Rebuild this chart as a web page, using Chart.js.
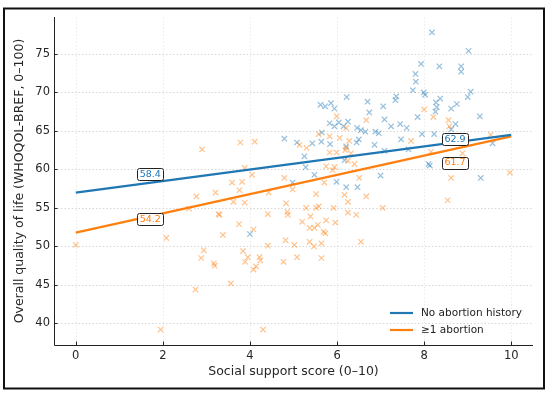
<!DOCTYPE html>
<html><head><meta charset="utf-8">
<script src="https://cdn.jsdelivr.net/npm/chart.js@4"></script>
<style>html,body{margin:0;padding:0;background:#fff}#wrap{width:550px;height:395px;position:relative}</style>
</head><body><div id="wrap"><canvas id="c" width="550" height="395"></canvas></div>
<script>
// ---- data ----
const seriesNames = ['No abortion history', '\u22651 abortion'];
const noAbortionX = [4.0,4.98,5.48,5.99,6.21,6.47,7.0,9.3,4.79,5.08,5.43,5.25,5.28,5.62,5.73,5.86,6.22,5.94,5.83,6.04,5.94,6.15,6.25,6.46,6.55,6.65,6.7,5.65,6.45,5.84,6.21,6.17,8.18,9.02,7.93,8.35,8.85,8.85,7.8,7.81,7.74,7.99,8.02,9.07,9.0,8.37,8.27,8.29,8.75,8.62,9.28,7.36,7.34,7.06,6.74,7.85,7.09,7.24,7.45,7.6,8.72,8.62,6.88,6.96,7.47,7.95,8.23,6.86,9.57,7.64,8.1,8.13,7.09,5.64,6.5,8.26];
const noAbortionY = [51.6,58.3,59.3,58.4,57.7,57.7,59.2,58.9,64.0,63.5,63.4,61.7,60.3,68.4,68.2,68.6,69.4,67.9,66.0,66.1,65.6,65.6,66.2,65.4,65.1,64.9,68.8,64.8,63.5,63.3,63.0,61.2,77.8,75.4,73.7,73.4,73.4,72.7,72.4,71.4,70.3,70.0,69.7,70.1,69.4,69.2,68.7,68.1,68.5,67.9,66.9,69.5,69.0,68.2,67.4,66.8,66.5,65.6,65.9,65.4,65.9,65.2,64.9,64.7,63.9,64.6,64.6,63.2,63.4,62.6,60.7,60.5,62.4,63.6,63.9,67.5];
const abortionX = [0.0,1.95,2.08,2.9,2.77,2.6,3.21,3.28,3.3,2.94,2.88,3.17,3.19,2.75,3.38,3.56,3.59,3.82,3.76,3.62,3.88,3.75,4.08,3.84,3.95,3.89,4.22,4.14,4.08,4.24,4.41,4.3,4.41,4.43,4.83,4.86,4.87,4.98,4.82,5.02,4.77,5.08,5.2,5.29,5.52,5.58,5.39,5.56,5.37,5.48,5.69,5.73,5.75,5.96,5.92,5.37,5.47,5.64,5.64,6.25,6.25,6.44,6.55,5.71,6.51,8.62,9.97,8.54,5.52,6.17,6.67,7.05,3.78,4.11,5.3,5.14,4.79,5.99,6.21,5.58,5.83,6.06,6.28,5.83,5.99,6.19,6.32,6.25,6.4,5.94,5.75,5.9,4.05,3.88,8.0,8.21,8.56,8.58,7.7,9.53,8.16,8.88,6.67,6.21];
const abortionY = [50.2,39.2,51.1,62.6,56.5,54.9,57.0,54.2,54.1,49.5,48.5,47.8,47.5,44.4,51.5,45.2,58.3,58.4,57.3,55.8,55.7,52.9,52.2,49.4,48.6,48.0,48.6,47.4,47.0,48.2,50.1,39.2,54.2,57.0,55.6,54.5,54.1,57.4,50.8,50.2,48.0,48.6,53.2,55.0,55.0,55.2,53.9,52.8,52.4,52.4,51.9,51.7,53.4,53.1,55.0,50.6,50.0,50.4,48.5,55.8,54.4,54.1,50.6,58.3,58.9,58.9,59.6,56.0,56.8,56.7,56.5,55.0,63.5,63.6,62.8,63.2,58.9,66.9,65.4,64.6,64.3,64.1,63.7,62.2,62.2,62.5,62.1,61.1,60.7,60.3,60.4,59.9,59.3,60.2,67.8,66.8,66.4,65.6,63.7,64.5,62.3,62.1,66.4,62.8];
const fitX = [0, 10];
const noAbortionFit = [57.0, 64.5];
const abortionFit = [51.8, 64.3];
const annX = [1.71, 8.71];
const noAbortionAnnY = [59.4, 64.0];
const abortionAnnY = [53.5, 60.9];
const noAbortionAnnText = ['58.4', '62.9'];
const abortionAnnText = ['54.2', '61.7'];
const xTicks = [0, 2, 4, 6, 8, 10];
const yTicks = [40, 45, 50, 55, 60, 65, 70, 75];
const xTitle = 'Social support score (0\u201310)';
const yTitle = 'Overall quality of life (WHOQOL-BREF, 0\u2013100)';

// ---- styling ----
const BLUE = '#1f77b4', ORANGE = '#ff7f0e';
const FONT = "'DejaVu Sans', sans-serif";
const zip = (xs, ys) => xs.map((x, i) => ({x, y: ys[i]}));

const framePlugin = {
  id: 'frame',
  beforeDatasetsDraw(chart) {
    const {ctx, chartArea: a, scales: {x, y}} = chart;
    ctx.save();
    ctx.strokeStyle = 'rgba(0,0,0,0.16)';
    ctx.lineWidth = 1;
    ctx.setLineDash([1.5, 2]);
    yTicks.forEach(v => { const p = Math.round(y.getPixelForValue(v)) + 0.5; ctx.beginPath(); ctx.moveTo(a.left, p); ctx.lineTo(a.right, p); ctx.stroke(); });
    ctx.strokeStyle = 'rgba(0,0,0,0.08)';
    xTicks.forEach(v => { const p = Math.round(x.getPixelForValue(v)) + 0.5; ctx.beginPath(); ctx.moveTo(p, a.top); ctx.lineTo(p, a.bottom); ctx.stroke(); });
    ctx.setLineDash([]);
    ctx.strokeStyle = '#222';
    ctx.lineWidth = 1;
    ctx.beginPath();
    ctx.moveTo(a.left + 0.5, a.top); ctx.lineTo(a.left + 0.5, a.bottom + 0.5); ctx.lineTo(a.right, a.bottom + 0.5);
    ctx.stroke();
    xTicks.forEach(v => { const p = Math.round(x.getPixelForValue(v)) + 0.5; ctx.beginPath(); ctx.moveTo(p, a.bottom); ctx.lineTo(p, a.bottom - 3.5); ctx.stroke(); });
    yTicks.forEach(v => { const p = Math.round(y.getPixelForValue(v)) + 0.5; ctx.beginPath(); ctx.moveTo(a.left, p); ctx.lineTo(a.left + 3.5, p); ctx.stroke(); });
    ctx.restore();
  },
  afterDraw(chart) {
    const ctx = chart.ctx;
    ctx.save();
    ctx.strokeStyle = '#111';
    ctx.lineWidth = 2;
    ctx.strokeRect(4, 8.5, 540, 380);
    ctx.restore();
  }
};

const labelPlugin = {
  id: 'fitLabels',
  afterDatasetsDraw(chart) {
    const {ctx, scales: {x, y}} = chart;
    ctx.save();
    ctx.font = '9.5px ' + FONT;
    ctx.textAlign = 'center';
    ctx.textBaseline = 'middle';
    const draw = (xs, ys, texts, color) => {
      xs.forEach((xv, i) => {
        const px = x.getPixelForValue(xv), py = y.getPixelForValue(ys[i]);
        const w = ctx.measureText(texts[i]).width + 5, h = 12;
        ctx.beginPath();
        ctx.roundRect(Math.round(px - w / 2) + 0.5, Math.round(py - h / 2) + 0.5, Math.round(w), h, 2);
        ctx.fillStyle = '#fff'; ctx.fill();
        ctx.strokeStyle = '#222'; ctx.lineWidth = 1; ctx.stroke();
        ctx.fillStyle = color;
        ctx.fillText(texts[i], px, py + 0.5);
      });
    };
    draw(annX, noAbortionAnnY, noAbortionAnnText, BLUE);
    draw(annX, abortionAnnY, abortionAnnText, ORANGE);
    ctx.restore();
  }
};

const legendPlugin = {
  id: 'innerLegend',
  afterDatasetsDraw(chart) {
    const {ctx, chartArea: a} = chart;
    const items = chart.data.datasets.filter(d => d.type === 'line');
    ctx.save();
    ctx.font = '10.5px ' + FONT;
    ctx.textBaseline = 'middle';
    ctx.textAlign = 'left';
    items.forEach((d, i) => {
      const yy = a.bottom - 32 + i * 17;
      const x0 = a.right - 143;
      ctx.strokeStyle = d.borderColor; ctx.lineWidth = 2.2;
      ctx.beginPath(); ctx.moveTo(x0, yy); ctx.lineTo(x0 + 23, yy); ctx.stroke();
      ctx.fillStyle = '#222';
      ctx.fillText(d.label, x0 + 31, yy + 0.5);
    });
    ctx.restore();
  }
};

new Chart(document.getElementById('c'), {
  type: 'scatter',
  data: {
    datasets: [
      {type: 'line', label: seriesNames[0], data: zip(fitX, noAbortionFit), borderColor: BLUE, borderWidth: 2.2, pointRadius: 0, order: 0},
      {type: 'line', label: seriesNames[1], data: zip(fitX, abortionFit), borderColor: ORANGE, borderWidth: 2.2, pointRadius: 0, order: 0},
      {label: seriesNames[0] + ' points', data: zip(noAbortionX, noAbortionY), pointStyle: 'crossRot', pointRadius: 3.8, pointBorderWidth: 1.2, borderColor: 'rgba(31,119,180,0.47)', backgroundColor: 'rgba(31,119,180,0.47)', order: 2},
      {label: seriesNames[1] + ' points', data: zip(abortionX, abortionY), pointStyle: 'crossRot', pointRadius: 3.8, pointBorderWidth: 1.2, borderColor: 'rgba(255,127,14,0.47)', backgroundColor: 'rgba(255,127,14,0.47)', order: 1}
    ]
  },
  options: {
    responsive: false,
    devicePixelRatio: 1,
    animation: false,
    layout: {padding: {top: 17, right: 17, bottom: 0, left: 0}},
    plugins: {legend: {display: false}, tooltip: {enabled: false}},
    scales: {
      x: {
        type: 'linear', min: -0.5, max: 10.5,
        afterBuildTicks: s => { s.ticks = xTicks.map(v => ({value: v})); },
        afterFit: s => { s.height = 50; },
        grid: {display: false, drawTicks: false},
        border: {display: false},
        ticks: {padding: 4, color: '#262626', font: {family: FONT, size: 11.5}, maxRotation: 0},
        title: {display: true, text: xTitle, color: '#262626', font: {family: FONT, size: 12.5}, padding: {top: 0, bottom: 16}}
      },
      y: {
        type: 'linear', min: 37.2, max: 79.8,
        afterBuildTicks: s => { s.ticks = yTicks.map(v => ({value: v})); },
        afterFit: s => { s.width = 54; },
        grid: {display: false, drawTicks: false},
        border: {display: false},
        ticks: {padding: 4, color: '#262626', font: {family: FONT, size: 11.5}},
        title: {display: true, text: yTitle, color: '#262626', font: {family: FONT, size: 12.5}, padding: {top: 12, bottom: 0}}
      }
    }
  },
  plugins: [framePlugin, labelPlugin, legendPlugin]
});
</script></body></html>
